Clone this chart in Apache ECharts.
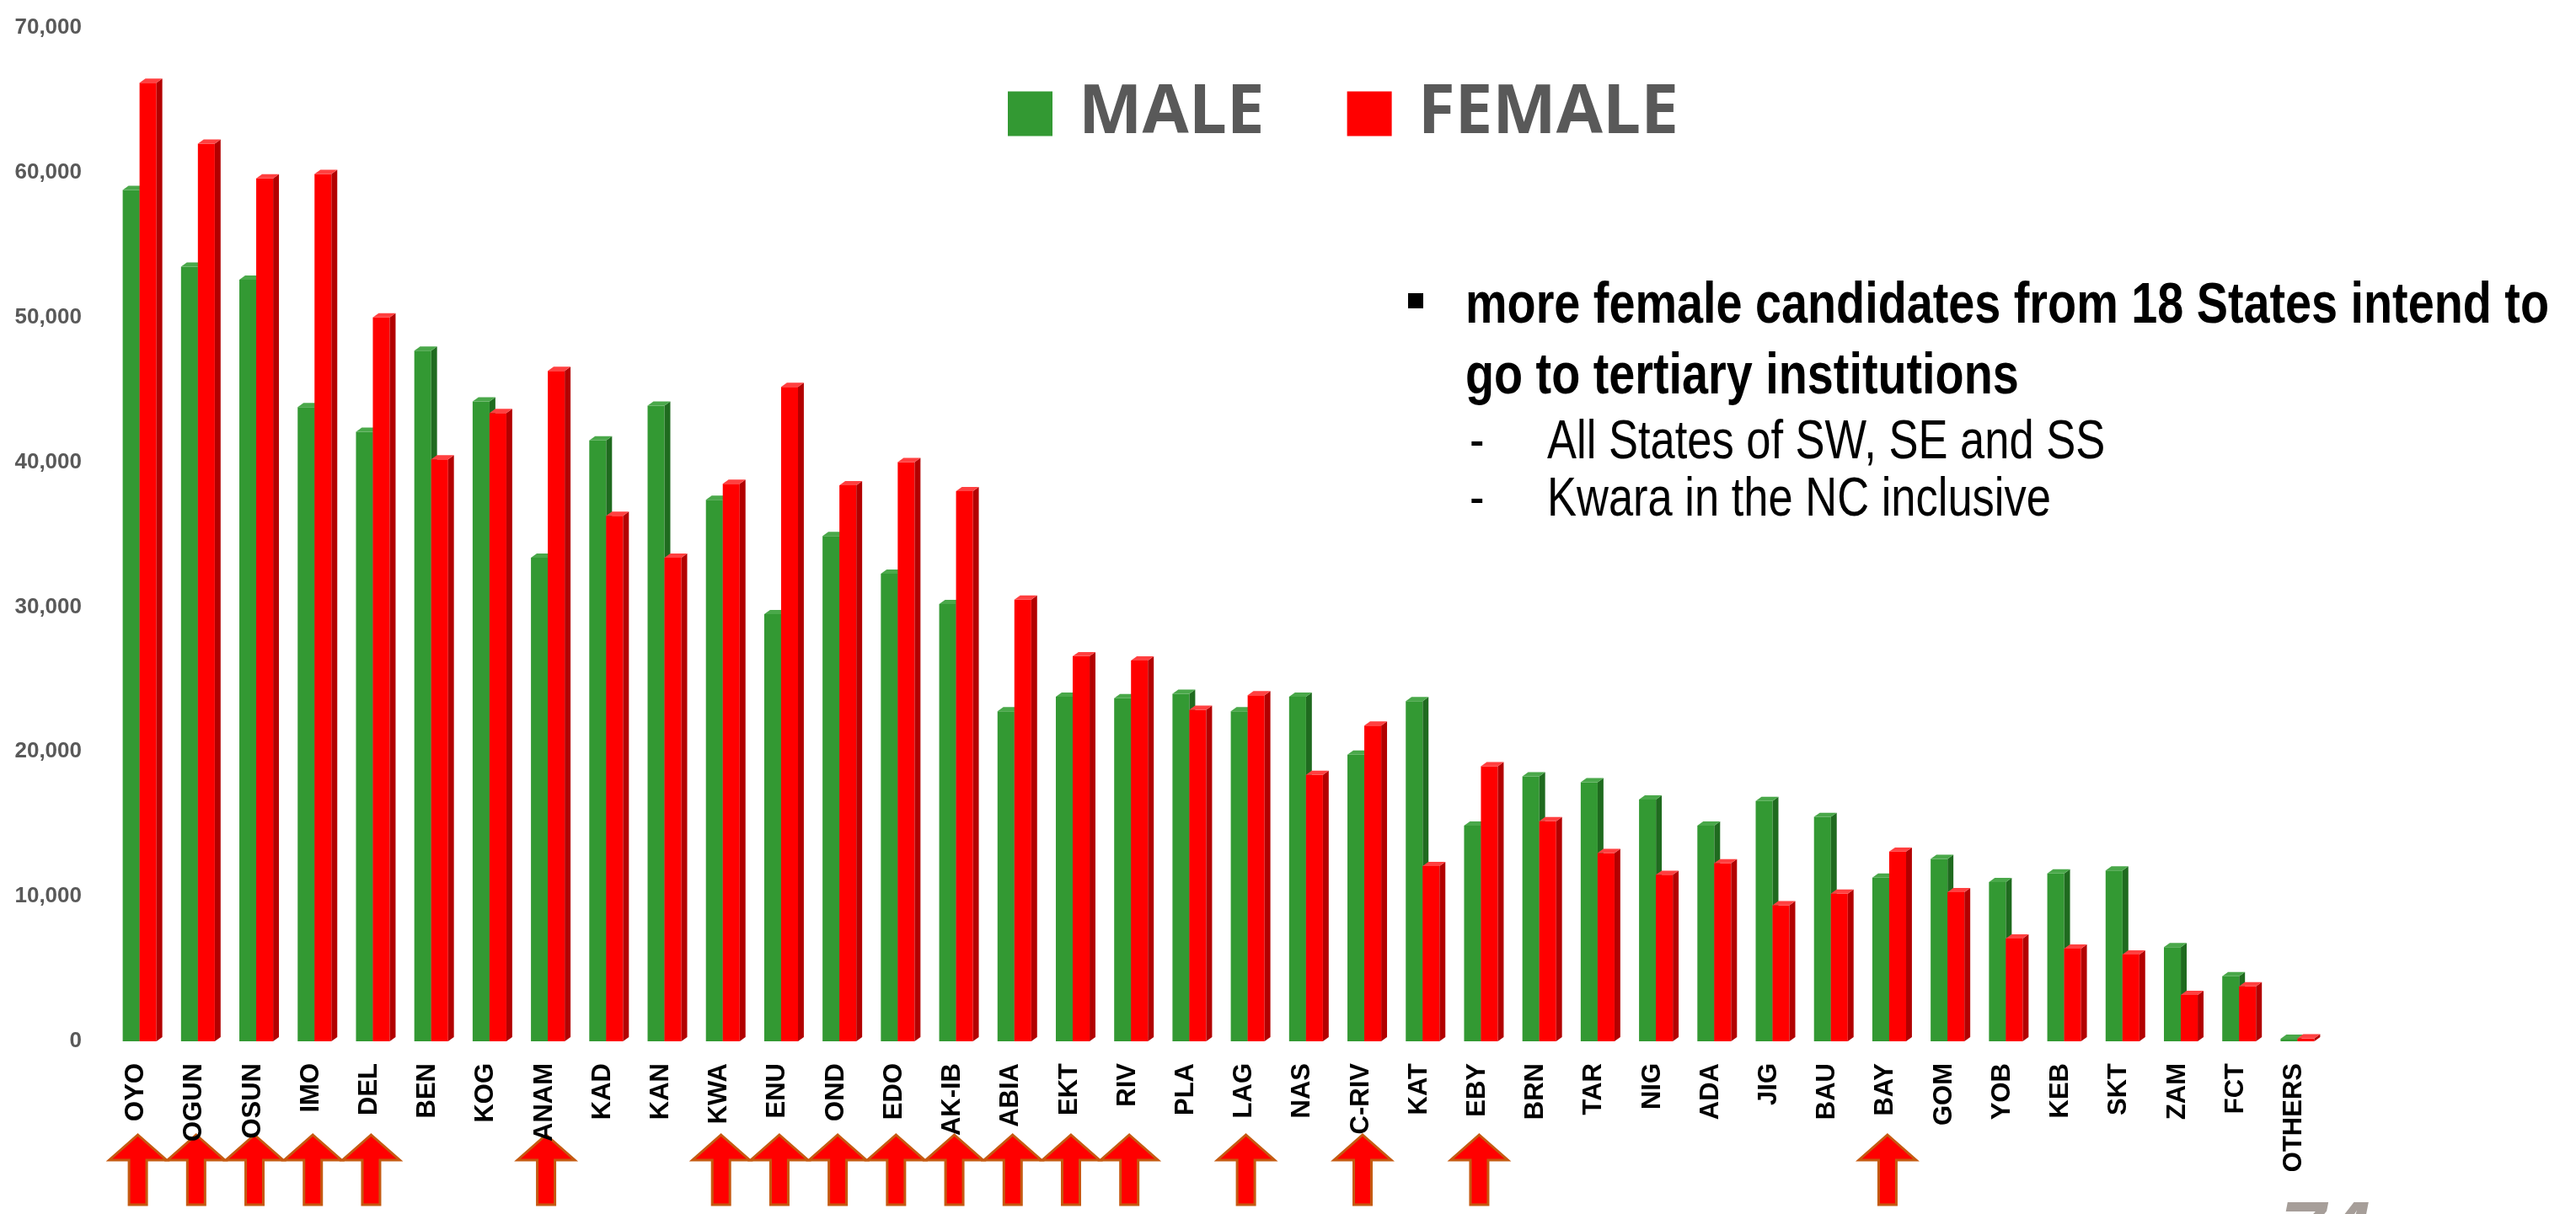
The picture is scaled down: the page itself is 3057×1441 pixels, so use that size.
<!DOCTYPE html>
<html>
<head>
<meta charset="utf-8">
<script src="https://cdn.jsdelivr.net/npm/echarts/dist/echarts.min.js"></script>
<style>
  html, body { margin: 0; padding: 0; background: #fff; }
  #chart { width: 3057px; height: 1441px; }
</style>
</head>
<body>
<div id="chart"></div>
<script>
const states = ['OYO', 'OGUN', 'OSUN', 'IMO', 'DEL', 'BEN', 'KOG', 'ANAM', 'KAD', 'KAN',
  'KWA', 'ENU', 'OND', 'EDO', 'AK-IB', 'ABIA', 'EKT', 'RIV', 'PLA', 'LAG',
  'NAS', 'C-RIV', 'KAT', 'EBY', 'BRN', 'TAR', 'NIG', 'ADA', 'JIG', 'BAU',
  'BAY', 'GOM', 'YOB', 'KEB', 'SKT', 'ZAM', 'FCT', 'OTHERS']
const male = [58800, 53500, 52600, 43800, 42100, 47700, 44200, 33400, 41500, 43900,
  37400, 29500, 34900, 32300, 30200, 22800, 23800, 23700, 24000, 22800,
  23800, 19800, 23500, 14900, 18300, 17900, 16700, 14900, 16600, 15500,
  11300, 12600, 11000, 11600, 11800, 6500, 4500, 170]
const female = [66200, 62000, 59600, 59900, 50000, 40200, 43400, 46300, 36300, 33400,
  38500, 45200, 38400, 40000, 38000, 30500, 26600, 26300, 22900, 23900,
  18400, 21800, 12100, 19000, 15200, 13000, 11500, 12300, 9400, 10200,
  13100, 10300, 7100, 6400, 6000, 3200, 3800, 200]
// states where more females intend to go to tertiary institutions
const flagged = ['OYO', 'OGUN', 'OSUN', 'IMO', 'DEL', 'ANAM', 'KWA', 'ENU', 'OND', 'EDO',
  'AK-IB', 'ABIA', 'EKT', 'RIV', 'LAG', 'C-RIV', 'EBY', 'BAY']
const yTicks = [0, 10000, 20000, 30000, 40000, 50000, 60000, 70000]

const sans = "'Liberation Sans', sans-serif"

// 3d looking column: front face, right side and top bevel
const column = (offset, front, side, top) => (params, api) => {
  const i = api.value(0)
  const base = api.coord([i, 0])
  const peak = api.coord([i, api.value(1)])
  const band = api.size([1, 0])[0]
  const w = band * 0.29
  const dx = band * 0.1
  const dy = band * 0.072
  const x0 = base[0] + band * offset
  const yT = peak[1]
  const yB = base[1]
  return {
    type: 'group',
    children: [
      { type: 'rect', shape: { x: x0, y: yT, width: w, height: yB - yT }, style: { fill: front } },
      { type: 'polygon', shape: { points: [[x0 + w, yT], [x0 + w + dx, yT - dy], [x0 + w + dx, yB - dy], [x0 + w, yB]] }, style: { fill: side } },
      { type: 'polygon', shape: { points: [[x0, yT], [x0 + dx, yT - dy], [x0 + w + dx, yT - dy], [x0 + w, yT]] }, style: { fill: top } }
    ]
  }
}

const chart = echarts.init(document.getElementById('chart'))

// narrow looking text: squeeze a normal sans horizontally
const line = (x, y, text, font) => ({
  type: 'text', x, y, scaleX: 0.82,
  style: { text, font: font + ' ' + sans, fill: '#000', verticalAlign: 'middle' }
})

const notes = [
  { type: 'rect', shape: { x: 1671, y: 348, width: 18, height: 18 }, style: { fill: '#000' } },
  line(1739, 364, 'more female candidates from 18 States intend to', 'bold 68px'),
  line(1739, 448, 'go to tertiary institutions', 'bold 68px'),
  line(1744, 526, '-', '64px'),
  line(1836, 526, 'All States of SW, SE and SS', '64px'),
  line(1744, 594, '-', '64px'),
  line(1836, 594, 'Kwara in the NC inclusive', '64px'),
  { type: 'text', x: 2706, y: 1420, style: { text: '74', font: 'italic bold 96px ' + sans, fill: '#a69e99' } }
]

chart.setOption({
  animation: false,
  backgroundColor: '#fff',
  grid: { left: 127, right: 300, top: 33, bottom: 205 },
  legend: {
    data: ['MALE', 'FEMALE'],
    left: 1191,
    top: 90,
    icon: 'rect',
    itemWidth: 53,
    itemHeight: 53,
    itemGap: 98,
    textStyle: { fontSize: 80, fontWeight: 'bold', fontFamily: 'Open Sans', color: '#595959', padding: [0, 0, 0, 26] }
  },
  xAxis: {
    type: 'category',
    data: states,
    axisLine: { show: false },
    axisTick: { show: false },
    axisLabel: { interval: 0, rotate: 90, margin: 26, fontSize: 31, fontWeight: 'bold', fontFamily: sans, color: '#000' }
  },
  yAxis: {
    type: 'value',
    min: yTicks[0],
    max: yTicks[yTicks.length - 1],
    interval: yTicks[1] - yTicks[0],
    splitLine: { show: false },
    axisLine: { show: false },
    axisTick: { show: false },
    axisLabel: {
      margin: 30,
      fontSize: 26,
      fontWeight: 'bold',
      fontFamily: sans,
      color: '#595959',
      formatter: v => v.toLocaleString('en-US')
    }
  },
  series: [
    {
      name: 'MALE',
      type: 'custom',
      itemStyle: { color: '#339933' },
      renderItem: column(-0.231, '#339933', '#1f6b1f', '#4aa84a'),
      data: male.map((v, i) => [i, v])
    },
    {
      name: 'FEMALE',
      type: 'custom',
      itemStyle: { color: '#ff0000' },
      renderItem: column(0.058, '#ff0000', '#b30000', '#ff4040'),
      data: female.map((v, i) => [i, v])
    }
  ],
  graphic: notes
})

// red arrows under the states with more female candidates
const arrows = flagged.map(name => {
  const x = chart.convertToPixel({ xAxisIndex: 0 }, name)
  return {
    type: 'polygon',
    x: x + 2,
    y: 1347,
    shape: { points: [[0, 0], [34, 30], [10.5, 30], [10.5, 83], [-10.5, 83], [-10.5, 30], [-34, 30]] },
    style: { fill: '#ff0000', stroke: '#c55a11', lineWidth: 3 }
  }
})
chart.setOption({ graphic: notes.concat(arrows) })
</script>
</body>
</html>
